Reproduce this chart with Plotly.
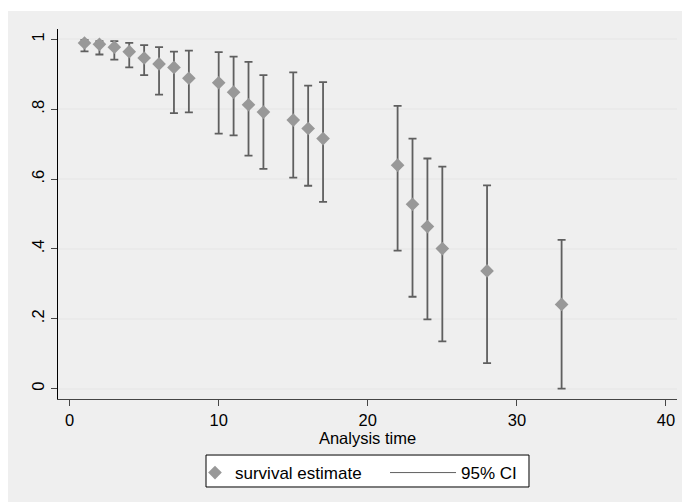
import plotly.graph_objects as go

# Data
time = [1, 2, 3, 4, 5, 6, 7, 8, 10, 11, 12, 13, 15, 16, 17, 22, 23, 24, 25, 28, 33]
survival = [0.990, 0.986, 0.978, 0.965, 0.947, 0.930, 0.920, 0.889, 0.876, 0.849,
            0.813, 0.792, 0.769, 0.745, 0.716, 0.640, 0.528, 0.464, 0.401, 0.337, 0.241]
ci_low = [0.966, 0.957, 0.942, 0.920, 0.898, 0.842, 0.789, 0.791, 0.730, 0.725,
          0.667, 0.629, 0.604, 0.581, 0.535, 0.395, 0.263, 0.198, 0.135, 0.073, 0.000]
ci_high = [0.999, 0.995, 0.995, 0.990, 0.984, 0.978, 0.965, 0.968, 0.964, 0.951,
           0.936, 0.898, 0.906, 0.868, 0.878, 0.810, 0.716, 0.659, 0.636, 0.582, 0.426]

y_ticks = [0, 0.2, 0.4, 0.6, 0.8, 1]
y_labels = ["0", ".2", ".4", ".6", ".8", "1"]
x_ticks = [0, 10, 20, 30, 40]

err_plus = [h - s for h, s in zip(ci_high, survival)]
err_minus = [s - l for s, l in zip(survival, ci_low)]

ci_color = "rgb(95,95,95)"
marker_color = "rgb(152,152,152)"
font_family = "Liberation Sans, Arial, sans-serif"

fig = go.Figure()

# CI error bars
fig.add_trace(go.Scatter(
    x=time, y=survival, mode="markers",
    marker=dict(size=1, opacity=0),
    error_y=dict(type="data", symmetric=False, array=err_plus, arrayminus=err_minus,
                 color=ci_color, thickness=1.8, width=4),
    showlegend=False, hoverinfo="skip",
))

# Survival estimate markers
fig.add_trace(go.Scatter(
    x=time, y=survival, mode="markers", name="survival estimate",
    marker=dict(symbol="diamond", size=10.5, color=marker_color, line=dict(width=0)),
    legend="legend",
))

# Legend entry for the CI
fig.add_trace(go.Scatter(
    x=[None], y=[None], mode="lines", name="95% CI",
    line=dict(color=ci_color, width=1),
    legend="legend2",
))

legend_common = dict(
    orientation="h", yanchor="top", y=-0.1514, xanchor="left",
    bgcolor="rgba(0,0,0,0)", borderwidth=0, font=dict(size=17),
)

fig.update_layout(
    width=682, height=502,
    margin=dict(l=58, r=5, t=29, b=103),
    paper_bgcolor="white",
    plot_bgcolor="white",
    font=dict(family=font_family, size=16, color="black"),
    xaxis=dict(
        range=[-0.778, 40.74], tickvals=x_ticks,
        showgrid=False, zeroline=False,
        showline=True, linecolor="rgb(70,70,70)", linewidth=1,
        ticks="outside", ticklen=6, tickcolor="rgb(70,70,70)", tickwidth=1,
        tickfont=dict(size=16.5),
        title=dict(text="Analysis time", font=dict(size=16.5), standoff=4),
    ),
    yaxis=dict(
        range=[-0.030, 1.030], tickvals=y_ticks, ticktext=y_labels,
        tickangle=-90,
        showgrid=True, gridcolor="rgb(234,234,234)", gridwidth=1.5,
        zeroline=False,
        showline=True, linecolor="black", linewidth=1,
        ticks="outside", ticklen=6, tickcolor="rgb(70,70,70)", tickwidth=1,
        tickfont=dict(size=16.5),
    ),
    legend=dict(legend_common, x=0.2213),
    legend2=dict(legend_common, x=0.5283, itemwidth=66),
    shapes=[
        dict(type="rect", xref="paper", yref="paper",
             x0=-0.0808, x1=1.01, y0=-0.28, y1=1.0486,
             fillcolor="rgb(239,239,239)", line=dict(width=0), layer="below"),
        dict(type="rect", xref="paper", yref="paper",
             x0=0.2391, x1=0.7609, y0=-0.2378, y1=-0.1514,
             fillcolor="white", line=dict(color="black", width=1), layer="below"),
    ],
)

fig.write_html("out.html")
